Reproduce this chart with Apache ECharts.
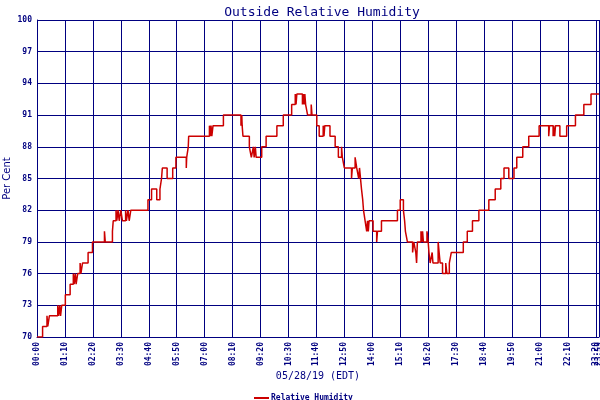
<!DOCTYPE html>
<html>
<head>
<meta charset="utf-8">
<script src="https://cdn.jsdelivr.net/npm/echarts@6/dist/echarts.min.js"></script>
<style>
  html, body { margin: 0; padding: 0; background: #fff; }
  #chart { width: 600px; height: 400px; }
</style>
</head>
<body>
<div id="chart"></div>
<script>
// minutes since midnight where the reading changes, and the reading from then on
var minutes = [
  0, 14, 25, 27, 31, 52, 54, 57, 59, 62, 71, 83, 91, 93, 96, 98, 102, 108, 110, 114,
  128, 139, 169, 171, 189, 191, 198, 200, 203, 206, 210, 214, 222, 224, 228, 231, 235,
  278, 287, 300, 308, 312, 314, 326, 340, 348, 374, 375, 379, 380, 432, 434, 436, 438, 441,
  467, 511, 513, 514, 516, 526, 532, 537, 542, 544, 547, 549, 551, 563, 574, 601,
  617, 638, 647, 649, 651, 665, 667, 669, 671, 673, 678, 687, 689, 701, 707, 717, 719, 721,
  734, 747, 755, 763, 765, 770, 788, 790, 797, 801, 806, 808, 813, 816, 818, 822, 826, 828,
  830, 832, 842, 851, 853, 863, 903, 910, 918, 921, 923, 928, 941, 944, 949, 951, 952, 953,
  962, 964, 966, 968, 977, 980, 982, 985, 990, 992, 1005, 1010, 1016, 1024, 1027, 1033,
  1038, 1068, 1078, 1091, 1107, 1132, 1148, 1162, 1170, 1182, 1195, 1202, 1217, 1232, 1258,
  1282, 1284, 1293, 1294, 1297, 1299, 1310, 1327, 1349, 1370, 1388, 1408
];
var humidity = [
  70, 71, 72, 71, 72, 73, 72, 73, 72, 73, 74, 75, 76, 75, 76, 75, 76, 77, 76, 77,
  78, 79, 80, 79, 80, 81, 82, 81, 82, 81, 82, 81, 82, 81, 82, 81, 82,
  83, 84, 83, 84, 85, 86, 85, 86, 87, 86, 87, 88, 89, 90, 89, 90, 89, 90,
  91, 90, 91, 90, 89, 89, 88, 87, 88, 87, 88, 87, 87, 88, 89, 90,
  91, 92, 93, 92, 93, 92, 93, 92, 93, 92, 91, 92, 91, 90, 89, 90, 89, 90,
  89, 88, 87, 88, 87, 86, 85, 86, 87, 86, 85, 86, 84, 83, 82, 81, 80, 81,
  80, 81, 80, 79, 80, 81, 82, 83, 82, 81, 80, 79, 78, 79, 78, 77, 78, 79,
  80, 79, 80, 79, 80, 79, 78, 77, 78, 77, 79, 77, 76, 77, 76, 77,
  78, 79, 80, 81, 82, 83, 84, 85, 86, 85, 86, 87, 88, 89, 90,
  89, 90, 89, 90, 89, 90, 89, 90, 91, 92, 93, 93
];
var yTicks = [70, 73, 76, 79, 82, 85, 88, 91, 94, 97, 100];
var xEnd = 1408; // right edge of the plot
var xEndLabel = '23:59';

var navy = '#000080';
var red = '#cc0000';
var mono = '"DejaVu Sans Mono", monospace';

function pad(n) { return n < 10 ? '0' + n : '' + n; }
function clock(v) {
  if (v >= xEnd) return '';
  return pad(Math.floor(v / 60)) + ':' + pad(v % 60);
}

var data = minutes.map(function (m, i) { return [m, humidity[i]]; });

var labelStyle = {
  rotate: 90,
  margin: 5,
  color: navy,
  fontFamily: mono,
  fontSize: 8,
  fontWeight: 'bold',
  showMinLabel: true,
  hideOverlap: false
};

var chart = echarts.init(document.getElementById('chart'), null, { renderer: 'canvas' });
chart.setOption({
  animation: false,
  backgroundColor: '#fff',
  title: {
    text: 'Outside Relative Humidity',
    left: 317,
    top: 1,
    textAlign: 'center',
    textStyle: { color: navy, fontFamily: mono, fontSize: 13, fontWeight: 'normal' }
  },
  legend: {
    data: ['Relative Humidity'],
    left: 249,
    top: 389,
    icon: 'rect',
    itemWidth: 15,
    itemHeight: 2,
    itemGap: 2,
    textStyle: { color: navy, fontFamily: mono, fontSize: 8, fontWeight: 'bold', padding: [0, 0, 0, -3] }
  },
  grid: { left: 37, top: 20, right: 1, bottom: 63, containLabel: false, outerBoundsMode: 'none' },
  xAxis: [{
    type: 'value',
    min: 0,
    max: xEnd,
    interval: 70,
    name: '05/28/19 (EDT)',
    nameLocation: 'middle',
    nameGap: 34,
    nameMoveOverlap: false,
    nameTextStyle: { color: navy, fontFamily: mono, fontSize: 10 },
    axisLine: { lineStyle: { color: navy, width: 1 } },
    axisTick: { show: false },
    axisLabel: Object.assign({}, labelStyle, { showMaxLabel: false, formatter: clock }),
    splitLine: { show: true, lineStyle: { color: navy, width: 1 } }
  }, {
    // carries only the end-of-day label, drawn over the 23:20 one as in the original
    type: 'value',
    position: 'bottom',
    min: 0,
    max: xEnd,
    interval: 70,
    axisLine: { show: false },
    axisTick: { show: false },
    splitLine: { show: false },
    axisLabel: Object.assign({}, labelStyle, {
      showMaxLabel: true,
      formatter: function (v) { return v >= xEnd ? xEndLabel : ''; }
    })
  }],
  yAxis: {
    type: 'value',
    min: yTicks[0],
    max: yTicks[yTicks.length - 1],
    interval: 3,
    name: 'Per Cent',
    nameLocation: 'middle',
    nameGap: 25,
    nameMoveOverlap: false,
    nameTextStyle: { color: navy, fontFamily: 'DejaVu Sans, sans-serif', fontSize: 10 },
    axisLine: { show: true, lineStyle: { color: navy, width: 1 } },
    axisTick: { show: false },
    axisLabel: { margin: 5, color: navy, fontFamily: mono, fontSize: 8, fontWeight: 'bold' },
    splitLine: { show: true, lineStyle: { color: navy, width: 1 } }
  },
  series: [{
    name: 'Relative Humidity',
    type: 'line',
    step: 'end',
    data: data,
    showSymbol: false,
    color: red,
    lineStyle: { color: red, width: 1.5 }
  }]
});
</script>
</body>
</html>
